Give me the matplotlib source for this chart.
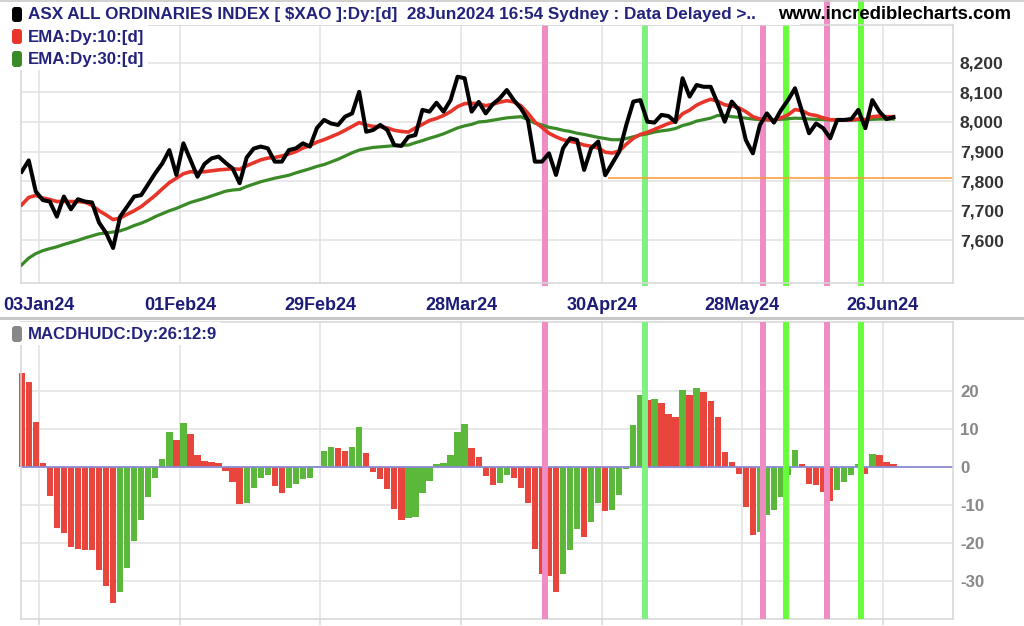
import matplotlib.pyplot as plt
import numpy as np
from matplotlib.patches import FancyBboxPatch, Rectangle
from matplotlib.lines import Line2D

# ---- data (one value per trading day, 28Dec23 .. 28Jun24) ----
tick_labels = ['03Jan24', '01Feb24', '29Feb24', '28Mar24', '30Apr24', '28May24', '26Jun24']
tick_days = [2.5, 22.5, 42.5, 62.5, 82.5, 102.5, 122.5]

close = [7832, 7870, 7765, 7736, 7731, 7680, 7748, 7705, 7739, 7731,
         7728, 7660, 7625, 7574, 7680, 7714, 7748, 7753, 7790, 7827,
         7860, 7905, 7821, 7928, 7872, 7815, 7858, 7877, 7883, 7862,
         7843, 7793, 7880, 7910, 7917, 7911, 7866, 7866, 7905, 7911,
         7928, 7917, 7980, 8007, 7995, 7990, 8018, 8029, 8102, 7967,
         7973, 7990, 7973, 7922, 7919, 7950, 7956, 8041, 8035, 8065,
         8035, 8074, 8153, 8148, 8035, 8068, 8029, 8060, 8080, 8108,
         8074, 8046, 8007, 7866, 7866, 7894, 7821, 7911, 7945, 7939,
         7838, 7911, 7934, 7820, 7860, 7900, 7990, 8069, 8074, 8001,
         7998, 8024, 8020, 8000, 8148, 8086, 8125, 8119, 8119, 8063,
         8001, 8069, 8041, 7939, 7894, 7990, 8029, 7998, 8040, 8074,
         8114, 8035, 7962, 7995, 7979, 7945, 8007, 8007, 8010, 8041,
         7979, 8074, 8035, 8010, 8016]

ema10 = [7720, 7745, 7752, 7743, 7738, 7731, 7732, 7731, 7731, 7729,
         7718, 7700, 7686, 7670, 7675, 7688, 7700, 7714, 7733, 7752,
         7774, 7795, 7810, 7825, 7832, 7830, 7832, 7835, 7838, 7840,
         7842, 7840, 7852, 7862, 7872, 7878, 7880, 7885, 7892, 7900,
         7912, 7920, 7932, 7940, 7950, 7960, 7972, 7985, 7998, 7990,
         7985, 7984, 7980, 7972, 7968, 7966, 7980, 7992, 8005, 8012,
         8022, 8035, 8052, 8062, 8063, 8062, 8055, 8060, 8067, 8072,
         8068, 8055, 8030, 8000, 7982, 7962, 7950, 7940, 7935, 7930,
         7922, 7918, 7912, 7898, 7895, 7902, 7925, 7945, 7958, 7965,
         7975, 7985, 7995, 8002, 8028, 8040, 8057, 8068, 8077, 8070,
         8058, 8055, 8048, 8035, 8018, 8010, 8008, 8006, 8014, 8024,
         8042, 8038, 8026, 8022, 8014, 8008, 8007, 8007, 8007, 8010,
         8008, 8018, 8020, 8018, 8018]

ema30 = [7517, 7540, 7555, 7565, 7572, 7578, 7586, 7593, 7600, 7608,
         7615, 7622, 7625, 7628, 7632, 7640, 7650, 7658, 7668, 7680,
         7690, 7700, 7708, 7718, 7728, 7735, 7742, 7750, 7758, 7766,
         7770, 7772, 7782, 7790, 7798, 7804, 7810, 7815, 7820, 7828,
         7835, 7842, 7850, 7856, 7865, 7874, 7885, 7896, 7905, 7910,
         7914, 7916, 7918, 7920, 7921, 7922, 7930, 7937, 7945, 7952,
         7960, 7970, 7980, 7987, 7992, 8000, 8002, 8006, 8010, 8014,
         8016, 8018, 8008, 7996, 7990, 7982, 7978, 7972, 7968, 7962,
         7958, 7953, 7948, 7944, 7940, 7940, 7944, 7950, 7956, 7960,
         7966, 7970, 7973, 7978, 7988, 7994, 8003, 8008, 8013, 8022,
         8022, 8018, 8016, 8013, 8010, 8008, 8007, 8008, 8009, 8011,
         8013, 8012, 8010, 8009, 8008, 8007, 8007, 8006, 8006, 8007,
         8007, 8009, 8010, 8010, 8010]

macd_hist = [24.9, 22.4, 11.8, 1.1, -7.6, -16.1, -17.4, -21.1, -21.6, -21.8,
             -21.8, -27.0, -31.3, -35.9, -33.0, -26.6, -19.4, -13.9, -8.0, -2.8,
             2.2, 9.3, 7.2, 11.7, 8.8, 3.3, 1.6, 1.3, 1.0, -1.0,
             -3.8, -9.8, -9.4, -5.4, -2.8, -2.1, -5.0, -6.8, -5.4, -4.5,
             -3.2, -2.8, 0.3, 4.2, 5.4, 5.0, 4.2, 5.4, 10.6, 3.8,
             -1.2, -3.2, -5.8, -11.1, -13.9, -13.4, -13.1, -6.8, -3.7, 0.9,
             1.1, 3.3, 9.3, 11.4, 5.1, 2.6, -2.4, -4.6, -4.3, -2.1,
             -2.8, -5.4, -9.5, -21.5, -28.2, -28.7, -32.9, -28.2, -21.8, -16.3,
             -18.4, -14.5, -9.5, -11.6, -11.4, -7.3, -0.5, 11.0, 19.1, 17.6,
             18.0, 16.9, 14.0, 13.3, 20.4, 19.1, 20.8, 19.7, 17.5, 13.2,
             3.9, 1.3, -1.8, -10.4, -18.0, -17.1, -12.5, -11.2, -7.9, -2.2,
             4.4, 0.9, -4.4, -4.8, -6.6, -9.0, -6.1, -3.9, -2.2, 0.9,
             -1.8, 3.5, 3.1, 1.3, 0.9]

sell_days = [74.4, 105.4, 114.5]
buy_days = [88.7, 108.7, 119.4]
support_level = 7811
support_from = 83.4

# ---- layout in pixels ----
W, H = 1024, 626
fig = plt.figure(figsize=(W / 100, H / 100), dpi=100)
fig.patch.set_facecolor('white')

def px_axes(l, t, r, b):
    return fig.add_axes([l / W, 1 - b / H, (r - l) / W, (b - t) / H])

def fx(x):
    return x / W

def fy(y):
    return 1 - y / H

ax1 = px_axes(21, 25, 953, 283)
ax2 = px_axes(21, 322, 953, 619)

days = np.arange(len(close))
xlim = (-0.1, 132.47)
grid_c = '#e2e2e2'
navy = '#23237e'
bold = dict(family='Liberation Sans', weight='bold')

for ax in (ax1, ax2):
    ax.set_xlim(*xlim)
    ax.grid(True, color=grid_c, lw=1.1)
    ax.set_axisbelow(True)
    for s in ax.spines.values():
        s.set_color('#d6d6d6')
        s.set_linewidth(1.1)
    ax.yaxis.tick_right()
    ax.set_xticks(tick_days)

# ---- price panel ----
ax1.set_ylim(7455.7, 8327.9)
ax1.set_yticks([7600, 7700, 7800, 7900, 8000, 8100, 8200])
ax1.set_yticklabels(['{:,}'.format(v) for v in [7600, 7700, 7800, 7900, 8000, 8100, 8200]],
                    fontsize=12.6, color='#333333', **bold)
ax1.set_xticklabels(tick_labels, fontsize=13, color='#1c1c78', **bold)
ax1.tick_params(axis='x', length=0, pad=10)
ax1.tick_params(axis='y', length=0, pad=5)

ext = 1 + 25 / 258
for d in sell_days:
    ax1.axvline(d, ymin=0, ymax=ext, color='#f08cc4', lw=4.3, clip_on=False, zorder=1.5)
for n, d in enumerate(buy_days):
    c = '#80f080' if n == 0 else '#66ff3a'
    ax1.axvline(d, ymin=0, ymax=ext, color=c, lw=4.3, clip_on=False, zorder=1.5)

ax1.hlines(support_level, support_from, xlim[1], color='#ff9933', lw=1.1, zorder=2.5)
ax1.plot(days, ema30, color='#3a8a28', lw=2.3, zorder=3)
ax1.plot(days, ema10, color='#e8352a', lw=2.6, zorder=3.2)
ax1.plot(days, close, color='black', lw=2.9, zorder=3.5)

# ---- MACD histogram panel ----
hist = np.array(macd_hist)
up = np.r_[False, np.diff(hist) > 0]
bar_colors = np.where(up, '#5cb83a', '#e8463c')
ax2.bar(days, hist, width=0.9, color=bar_colors, linewidth=0, zorder=2, clip_on=False)
ax2.axhline(0, color='#8c8cd6', lw=1.3, zorder=2.5)
ax2.set_ylim(-40, 38.2)
ax2.set_yticks([-30, -20, -10, 0, 10, 20])
ax2.set_yticklabels(['-30', '-20', '-10', '0', '10', '20'], fontsize=12.2, color='#888888', **bold)
ax2.set_xticklabels([''] * len(tick_days))
ax2.tick_params(axis='x', direction='out', length=4.5, color='#d6d6d6', width=1.1)
ax2.tick_params(axis='y', length=0, pad=5)
for d in sell_days:
    ax2.axvline(d, color='#f08cc4', lw=4.3, zorder=4)
for n, d in enumerate(buy_days):
    c = '#80f080' if n == 0 else '#66ff3a'
    ax2.axvline(d, color=c, lw=4.3, zorder=4)

# ---- header, legend, separators ----
def white_box(l, t, r, b):
    fig.add_artist(Rectangle((fx(l), fy(b)), (r - l) / W, (b - t) / H,
                             transform=fig.transFigure, fc='white', ec='none', zorder=1))

white_box(0, 0, 800, 25)
white_box(0, 25, 148, 70)
white_box(0, 322, 220, 345)

def key(y0, y1, color):
    fig.add_artist(FancyBboxPatch((12 / 100, (H - y1) / 100), 10 / 100, (y1 - y0) / 100,
                                  boxstyle='round,pad=0,rounding_size=0.03',
                                  transform=fig.dpi_scale_trans, fc=color, ec='none', zorder=2))

key(7, 22, 'black')
key(29, 44, '#e8352a')
key(51, 67, '#3a8a28')
key(326, 342, '#888888')

fig.text(fx(28), fy(14.5), 'ASX ALL ORDINARIES INDEX [ $XAO ]:Dy:[d]  28Jun2024 16:54 Sydney : Data Delayed >..',
         fontsize=12.3, color=navy, va='center', ha='left', zorder=3, **bold)
fig.text(fx(778), fy(14.5), 'www.incrediblecharts.com', fontsize=13.3, color='black',
         va='center', ha='left', zorder=3, **bold)
fig.text(fx(28), fy(37.5), 'EMA:Dy:10:[d]', fontsize=12.2, color=navy, va='center', zorder=3, **bold)
fig.text(fx(28), fy(59.5), 'EMA:Dy:30:[d]', fontsize=12.2, color=navy, va='center', zorder=3, **bold)
fig.text(fx(28), fy(334), 'MACDHUDC:Dy:26:12:9', fontsize=12.1, color=navy, va='center', zorder=3, **bold)

fig.add_artist(Line2D([0, 1], [fy(318), fy(318)], transform=fig.transFigure,
                      color='#c8c8c8', lw=2.2, zorder=1))
fig.add_artist(Line2D([0, 1], [fy(0.5), fy(0.5)], transform=fig.transFigure,
                      color='#c8c8c8', lw=1.2, zorder=1))

fig.savefig('out.png', dpi=100)
